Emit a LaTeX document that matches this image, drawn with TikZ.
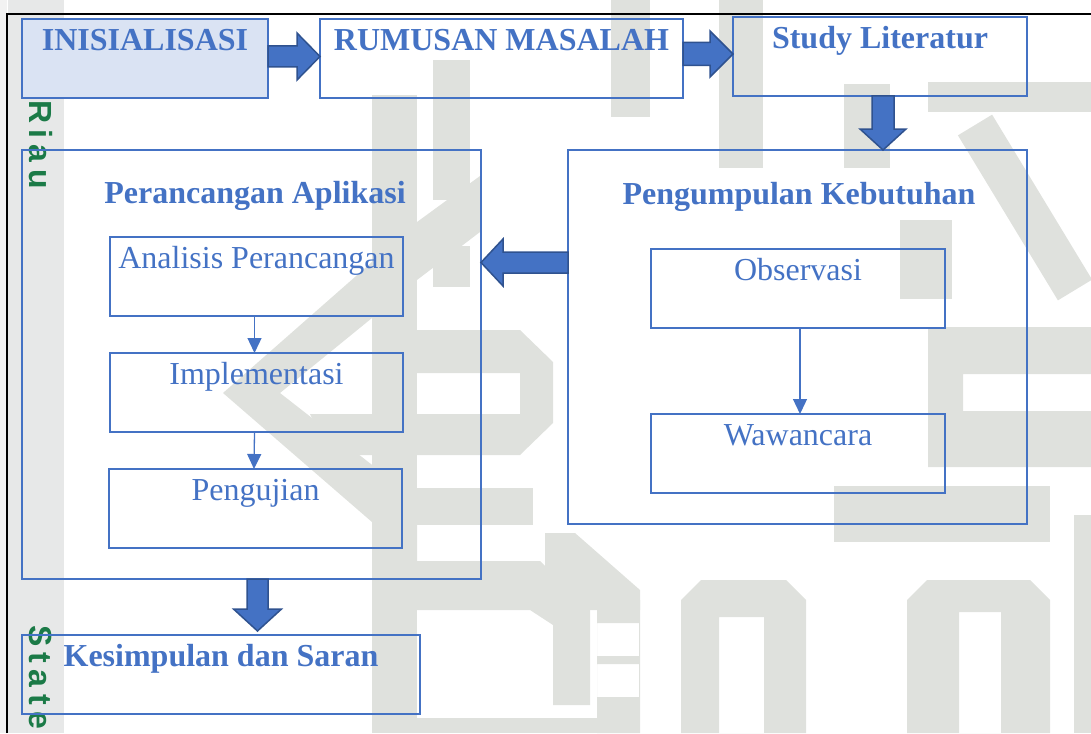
\documentclass[tikz,border=0pt]{standalone}
\usepackage{fontspec}
\setmainfont{Liberation Serif}
\newfontfamily\wmfont{Liberation Sans}[LetterSpace=20]
\usetikzlibrary{calc,arrows.meta}
\definecolor{bl}{HTML}{4472C4}
\definecolor{bldark}{HTML}{2F528F}
\definecolor{blfill}{HTML}{DAE3F3}
\definecolor{wm}{HTML}{DFE1DD}
\definecolor{wmband}{HTML}{E7E8E8}
\definecolor{wmedge}{HTML}{F2F2F2}
\definecolor{wmgreen}{HTML}{1B7A47}
\tikzset{
  box/.style={draw=bl, line width=2pt, text=bl, inner sep=0pt, outer sep=0pt,
    text height=31.5pt, text depth=47.5pt, anchor=north west,
    font=\fontsize{32}{36}\selectfont},
  boldbox/.style={box, font=\fontsize{32}{36}\selectfont\bfseries},
  container/.style={draw=bl, line width=2pt, inner sep=0pt, outer sep=0pt, anchor=north west},
  titletext/.style={text=bl, inner sep=0pt, anchor=base, font=\fontsize{32}{36}\selectfont\bfseries},
  barrow/.style={fill=bl, draw=bldark, line width=1.5pt, line join=miter},
  thinarrow/.style={draw=bl, line width=1.3pt, -{Triangle[width=14pt,length=15pt]}},
  wmshape/.style={fill=wm, draw=none},
  wmtext/.style={text=wmgreen, inner sep=0pt, rotate=-90, anchor=base west,
    font=\wmfont\bfseries\fontsize{32}{36}\selectfont},
}
\newcommand\myRArrow[5]{\draw[barrow] ($(#1)+(0,-#3)$) -- ($(#2)+(-#5,-#3)$) -- ($(#2)+(-#5,-#4)$) -- (#2) -- ($(#2)+(-#5,#4)$) -- ($(#2)+(-#5,#3)$) -- ($(#1)+(0,#3)$) -- cycle;}
\newcommand\myLArrow[5]{\draw[barrow] ($(#1)+(0,-#3)$) -- ($(#2)+(#5,-#3)$) -- ($(#2)+(#5,-#4)$) -- (#2) -- ($(#2)+(#5,#4)$) -- ($(#2)+(#5,#3)$) -- ($(#1)+(0,#3)$) -- cycle;}
\newcommand\myDArrow[5]{\draw[barrow] ($(#1)+(-#3,0)$) -- ($(#2)+(-#3,-#5)$) -- ($(#2)+(-#4,-#5)$) -- (#2) -- ($(#2)+(#4,-#5)$) -- ($(#2)+(#3,-#5)$) -- ($(#1)+(#3,0)$) -- cycle;}
\begin{document}
\begin{tikzpicture}[x=1pt,y=-1pt]
\useasboundingbox (0,0) rectangle (1091,733);
\clip (0,0) rectangle (1091,733);
% ---------- watermark ----------
\fill[wmedge] (0,0) rectangle (7,733);
\fill[wmband] (8,0) rectangle (64,733);
\node[wmtext] (wmriau) at (29,100) {Riau};
\node[wmtext] (wmstate) at (29,625) {State};
% left-centre calligraphy
\fill[wmshape] (372,95) rectangle (417,733);
\fill[wmshape] (433,60) rectangle (470,200);
\fill[wmshape] (372,262) -- (223,393) -- (417,561) -- (417,500) -- (280,393) -- (372,318) -- cycle;
\fill[wmshape] (417,222) -- (480,176) -- (480,232) -- (417,280) -- cycle;
\fill[wmshape] (372,330) -- (520,330) -- (553,362) -- (553,423) -- (520,455) -- (330,455) -- (310,414) -- (520,414) -- (520,373) -- (372,373) -- cycle;
\fill[wmshape] (433,246) rectangle (470,287);
\fill[wmshape] (417,488) rectangle (533,525);
\fill[wmshape] (417,561) -- (540,561) -- (590,610) -- (590,705) -- (553,705) -- (553,625) -- (530,610) -- (417,610) -- cycle;
\fill[wmshape] (372,718) rectangle (600,733);
% right calligraphy
\fill[wmshape] (611,0) rectangle (650,117);
\fill[wmshape] (719,0) rectangle (763,168);
\fill[wmshape] (844,84) rectangle (890,168);
\fill[wmshape] (928,82) rectangle (1091,112);
\draw[wm, line width=40pt] (975,125) -- (1075,290);
\fill[wmshape] (900,220) rectangle (952,299);
\fill[wmshape, even odd rule] (928,327) rectangle (1091,467) (963,374) rectangle (1091,411);
\fill[wmshape] (834,486) rectangle (1050,542);
\fill[wmshape, even odd rule] (681,733) -- (681,600) -- (701,580) -- (786,580) -- (806,600) -- (806,733) -- cycle (719,617) rectangle (764,733);
\fill[wmshape, even odd rule] (907,733) -- (907,600) -- (927,580) -- (1030,580) -- (1050,600) -- (1050,733) -- cycle (959,612) rectangle (1001,733);
\fill[wmshape] (1074,515) rectangle (1091,733);
\fill[wmshape] (545,533) -- (575,533) -- (640,590) -- (640,610) -- (545,610) -- cycle;
\fill[wmshape, even odd rule] (597,600) rectangle (640,733) (597,623) rectangle (639,656) (597,664) rectangle (639,697);
% ---------- frame ----------
\draw[line width=2pt] (7,733) -- (7,14) -- (1091,14);
% ---------- top row ----------
\node[boldbox, fill=blfill, minimum width=246pt] (ini) at (22,19) {INISIALISASI};
\node[boldbox, minimum width=363pt] (rum) at (320,19) {RUMUSAN MASALAH};
\node[boldbox, minimum width=294pt] (stu) at (733,17) {Study Literatur};
% ---------- containers ----------
\node[container, minimum width=459pt, minimum height=374pt] (peng) at (568,150) {};
\node[titletext] (tpeng) at (799,204) {Pengumpulan Kebutuhan};
\node[box, minimum width=294pt] (obs) at (651,249) {Observasi};
\node[box, minimum width=294pt] (waw) at (651,414) {Wawancara};
\node[container, minimum width=459pt, minimum height=429pt] (peran) at (22,150) {};
\node[titletext] (tperan) at (255,203) {Perancangan Aplikasi};
\node[box, minimum width=293pt] (ana) at (110,237) {Analisis Perancangan};
\node[box, minimum width=293pt] (imp) at (110,353) {Implementasi};
\node[box, minimum width=293pt] (pgj) at (109,469) {Pengujian};
\node[boldbox, minimum width=398pt] (kes) at (22,635) {Kesimpulan dan Saran};
% ---------- thin connectors ----------
\draw[thinarrow] ($(ana.south)+(-2,0)$) -- ($(imp.north)+(-2,0)$);
\draw[thinarrow] ($(imp.south)+(-2,0)$) -- ($(pgj.north)+(-1.5,0)$);
\draw[thinarrow] ($(obs.south)+(2,0)$) -- ($(waw.north)+(2,0)$);
% ---------- block arrows ----------
\coordinate (a1s) at ($(ini.east)+(0,-2)$);
\coordinate (a1t) at ($(rum.west)+(0,-2)$);
\myRArrow{a1s}{a1t}{10.5}{23.5}{23}
\coordinate (a2s) at ($(rum.east)+(0,-4.5)$);
\coordinate (a2t) at ($(stu.west)+(0,-2.5)$);
\myRArrow{a2s}{a2t}{11.5}{23}{23}
\coordinate (a3s) at ($(stu.south)+(3,0)$);
\coordinate (a3t) at (a3s |- peng.north);
\myDArrow{a3s}{a3t}{11}{23}{21}
\coordinate (a4s) at ($(peng.north west)+(0,112.5)$);
\coordinate (a4t) at (peran.east |- a4s);
\myLArrow{a4s}{a4t}{10.5}{23.5}{22}
\coordinate (a5s) at ($(peran.south)+(6,0)$);
\coordinate (a5t) at ($(a5s |- kes.north)+(0,-4)$);
\myDArrow{a5s}{a5t}{10.5}{24}{22}
\end{tikzpicture}
\end{document}
